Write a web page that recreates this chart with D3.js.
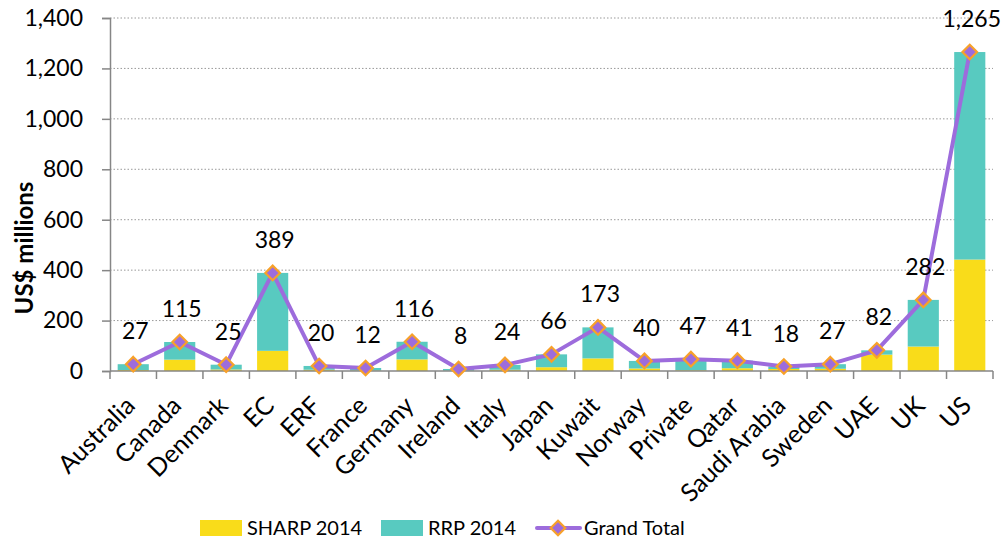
<!DOCTYPE html>
<html>
<head>
<meta charset="utf-8">
<script src="https://cdn.jsdelivr.net/npm/d3@7"></script>
<style>
  body { margin: 0; background: #fff; }
  text { font-family: Lato, "Open Sans", sans-serif; fill: #000; }
</style>
</head>
<body>
<div id="chart"></div>
<script>
// Datos (US$ millones)
const categorias = ['Australia', 'Canada', 'Denmark', 'EC', 'ERF', 'France', 'Germany', 'Ireland', 'Italy',
  'Japan', 'Kuwait', 'Norway', 'Private', 'Qatar', 'Saudi Arabia', 'Sweden', 'UAE', 'UK', 'US'];
const sharp2014 = [4, 45, 6, 80, 5, 2, 46, 1, 5, 15, 50, 10, 3, 11, 8, 9, 65, 97, 442];
const rrp2014 = [23, 70, 19, 309, 15, 10, 70, 7, 19, 51, 123, 30, 44, 30, 10, 18, 17, 185, 823];
const grandTotal = [27, 115, 25, 389, 20, 12, 116, 8, 24, 66, 173, 40, 47, 41, 18, 27, 82, 282, 1265];
const ticksY = [0, 200, 400, 600, 800, 1000, 1200, 1400];

const series = [
  { nombre: 'SHARP 2014', valores: sharp2014, color: '#f9dc1a' },
  { nombre: 'RRP 2014', valores: rrp2014, color: '#58cac0' }
];

const margin = { top: 18, right: 9, bottom: 171, left: 110 };
const totalWidth = 1002, totalHeight = 542;
const width = totalWidth - margin.left - margin.right;
const height = totalHeight - margin.top - margin.bottom;

const svg = d3.select('#chart')
  .append('svg')
  .attr('width', totalWidth)
  .attr('height', totalHeight);

const g = svg.append('g')
  .attr('transform', `translate(${margin.left}, ${margin.top})`);

// Escalas
const xScale = d3.scaleBand()
  .domain(categorias)
  .range([0, width])
  .paddingInner(0.33)
  .paddingOuter(0.165);

const yScale = d3.scaleLinear()
  .domain([0, 1400])
  .range([height, 0]);

// Líneas de rejilla punteadas
g.append('g')
  .selectAll('line')
  .data(ticksY.filter(t => t > 0))
  .join('line')
  .attr('x1', 0)
  .attr('x2', width)
  .attr('y1', d => yScale(d))
  .attr('y2', d => yScale(d))
  .attr('stroke', '#999')
  .attr('stroke-width', 1)
  .attr('stroke-dasharray', '1.5,2');

// Barras apiladas
const pila = categorias.map((c, i) => {
  let base = 0;
  return series.map(s => {
    const r = { cat: c, y0: base, y1: base + s.valores[i], color: s.color };
    base += s.valores[i];
    return r;
  });
}).flat();

g.append('g')
  .selectAll('rect')
  .data(pila)
  .join('rect')
  .attr('x', d => xScale(d.cat))
  .attr('width', xScale.bandwidth())
  .attr('y', d => yScale(d.y1))
  .attr('height', d => yScale(d.y0) - yScale(d.y1))
  .attr('fill', d => d.color);

// Eje Y
const ejeY = g.append('g')
  .call(d3.axisLeft(yScale).tickValues(ticksY).tickSize(8).tickPadding(19)
    .tickFormat(d3.format(',')));
ejeY.select('.domain').attr('stroke', '#868686').attr('stroke-width', 1.5);
ejeY.selectAll('.tick line').attr('stroke', '#868686').attr('stroke-width', 1.5);
ejeY.selectAll('.tick text').style('font-size', '23px');

// Eje X (marcas entre categorías)
const ejeX = g.append('g')
  .attr('transform', `translate(0, ${height})`);
ejeX.append('line')
  .attr('x1', 0).attr('x2', width)
  .attr('stroke', '#868686').attr('stroke-width', 1.5);
const pasoBanda = xScale.step();
ejeX.selectAll('line.marca')
  .data(d3.range(categorias.length + 1))
  .join('line')
  .attr('class', 'marca')
  .attr('x1', i => i * pasoBanda).attr('x2', i => i * pasoBanda)
  .attr('y1', 0).attr('y2', 8)
  .attr('stroke', '#868686').attr('stroke-width', 1.5);

ejeX.selectAll('text')
  .data(categorias)
  .join('text')
  .attr('transform', d => `translate(${xScale(d) + xScale.bandwidth() / 2 - 3}, 30) rotate(-45)`)
  .attr('text-anchor', 'end')
  .attr('dy', '0.35em')
  .style('font-size', '25px')
  .text(d => d);

// Línea del total
const cx = d => xScale(d) + xScale.bandwidth() / 2;
const linea = d3.line()
  .x((d, i) => cx(categorias[i]))
  .y(d => yScale(d));

g.append('path')
  .datum(grandTotal)
  .attr('d', linea)
  .attr('fill', 'none')
  .attr('stroke', '#9d6cdc')
  .attr('stroke-width', 4)
  .attr('stroke-linejoin', 'round');

// Marcadores en rombo
const rombo = d3.symbol().type(d3.symbolDiamond2).size(135);
g.append('g')
  .selectAll('path')
  .data(grandTotal)
  .join('path')
  .attr('d', rombo)
  .attr('transform', (d, i) => `translate(${cx(categorias[i])}, ${yScale(d)})`)
  .attr('fill', '#9d6cdc')
  .attr('stroke', '#f7a12a')
  .attr('stroke-width', 2.2);

// Etiquetas de valores
g.append('g')
  .selectAll('text')
  .data(grandTotal)
  .join('text')
  .attr('x', (d, i) => cx(categorias[i]) + 2)
  .attr('y', d => yScale(d) - 33)
  .attr('dy', '0.35em')
  .attr('text-anchor', 'middle')
  .style('font-size', '23px')
  .text(d => d3.format(',')(d));

// Título del eje Y
svg.append('text')
  .attr('transform', `translate(25, 248) rotate(-90)`)
  .attr('text-anchor', 'middle')
  .attr('dy', '0.35em')
  .style('font-size', '24px')
  .style('font-weight', 'bold')
  .text('US$ millions');

// Leyenda
const leyenda = svg.append('g').attr('transform', 'translate(0, 528)');
series.forEach((s, i) => {
  const x0 = i === 0 ? 200 : 381;
  leyenda.append('rect')
    .attr('x', x0).attr('y', -8)
    .attr('width', 42).attr('height', 16)
    .attr('fill', s.color);
  leyenda.append('text')
    .attr('x', x0 + 47).attr('dy', '0.35em')
    .style('font-size', '20px')
    .text(s.nombre);
});
leyenda.append('line')
  .attr('x1', 537).attr('x2', 580)
  .attr('stroke', '#9d6cdc').attr('stroke-width', 4).attr('stroke-linecap', 'round');
leyenda.append('path')
  .attr('d', rombo)
  .attr('transform', 'translate(558, 0)')
  .attr('fill', '#9d6cdc')
  .attr('stroke', '#f7a12a')
  .attr('stroke-width', 2.2);
leyenda.append('text')
  .attr('x', 584).attr('dy', '0.35em')
  .style('font-size', '20px')
  .text('Grand Total');
</script>
</body>
</html>
